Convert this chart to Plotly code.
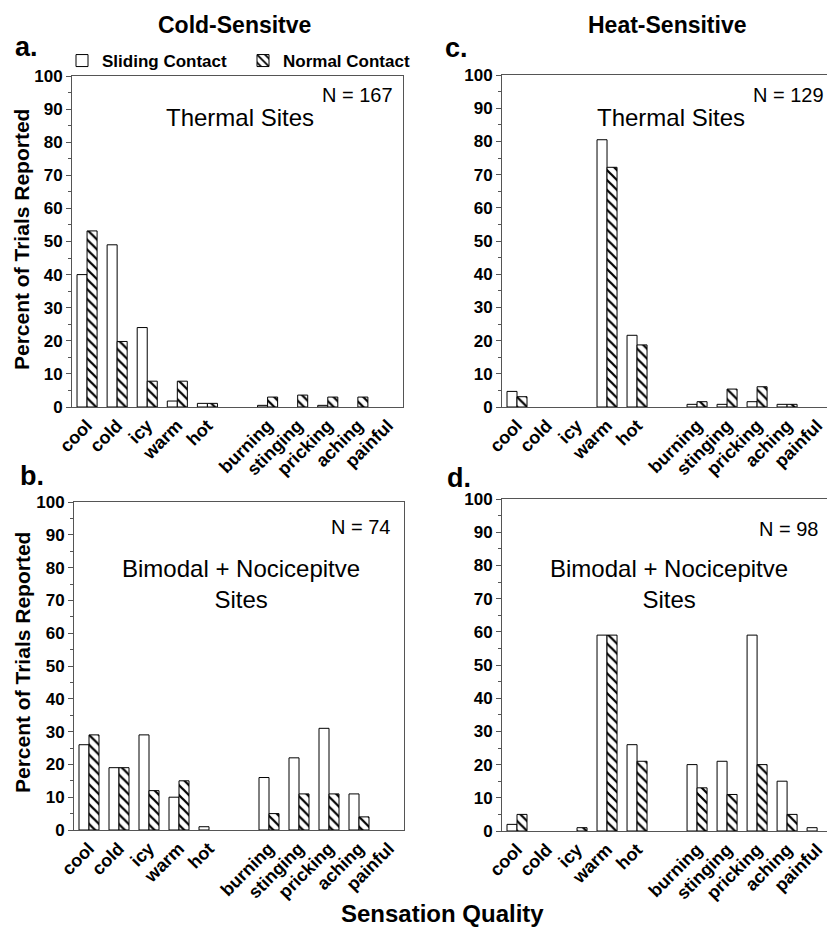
import plotly.graph_objects as go

W, H = 827, 937

# ---------------- data ----------------
categories = ["cool", "cold", "icy", "warm", "hot",
              "burning", "stinging", "pricking", "aching", "painful"]
slots = [0, 1, 2, 3, 4, 6, 7, 8, 9, 10]   # a blank slot separates the two groups

a_sliding = [40, 49, 24, 1.8, 1.1, 0.5, 0, 0.5, 0, 0]
a_normal = [53.2, 19.8, 7.8, 7.8, 1.1, 3.0, 3.6, 3.0, 3.0, 0]
c_sliding = [4.7, 0, 0, 80.5, 21.6, 0.8, 0.8, 1.6, 0.8, 0]
c_normal = [3.1, 0, 0, 72.2, 18.7, 1.6, 5.4, 6.1, 0.8, 0]
b_sliding = [26, 19, 29, 10, 1, 16, 22, 31, 11, 0]
b_normal = [29, 19, 12, 15, 0, 5, 11, 11, 4, 0]
d_sliding = [2, 0, 0, 59, 26, 20, 21, 59, 15, 1]
d_normal = [5, 0, 1, 59, 21, 13, 11, 20, 5, 0]

series_names = ["Sliding Contact", "Normal Contact"]
y_ticks = [0, 10, 20, 30, 40, 50, 60, 70, 80, 90, 100]

FONT = "Liberation Sans"
LINE = "#555555"
XTICK_SIZE = 18
YTICK_SIZE = 17

def px(x):
    return x / W

def py(y):
    return 1 - y / H

# panel pixel boxes: (left, right, top, bottom)
panels = {
    "a": dict(box=(72, 403, 76, 407), data=(a_sliding, a_normal), ax="", xr=[-0.5, 10.5]),
    "c": dict(box=(502, 827, 75, 407), data=(c_sliding, c_normal), ax="2", xr=[-0.5, 10.33]),
    "b": dict(box=(74, 404, 502, 830), data=(b_sliding, b_normal), ax="3", xr=[-0.5, 10.5]),
    "d": dict(box=(502, 827, 499, 831), data=(d_sliding, d_normal), ax="4", xr=[-0.5, 10.33]),
}

def outline(vals):
    return [1 if v > 0 else 0 for v in vals]

fig = go.Figure()
layout = {}
for key, p in panels.items():
    l, r, t, b = p["box"]
    ax = p["ax"]
    sl, nm = p["data"]
    fig.add_trace(go.Bar(
        x=slots, y=sl, name=series_names[0], offsetgroup="s",
        xaxis="x" + ax, yaxis="y" + ax, showlegend=(key == "a"),
        marker=dict(color="white", line=dict(color="black", width=outline(sl))),
    ))
    fig.add_trace(go.Bar(
        x=slots, y=nm, name=series_names[1], offsetgroup="n",
        xaxis="x" + ax, yaxis="y" + ax, showlegend=(key == "a"),
        marker=dict(color="white", line=dict(color="black", width=outline(nm)),
                    pattern=dict(shape="\\", size=7, solidity=0.32,
                                 fgcolor="black", bgcolor="white")),
    ))
    layout["xaxis" + ax] = dict(
        domain=[px(l), px(r)], range=p["xr"], anchor="y" + ax,
        tickvals=slots, ticktext=["<b>%s</b>" % c for c in categories], tickangle=-45,
        tickfont=dict(family=FONT, size=XTICK_SIZE, color="black"),
        showline=True, linecolor=LINE, linewidth=1, mirror=True, automargin=False,
        ticks="", showgrid=False, zeroline=False, fixedrange=True,
    )
    layout["yaxis" + ax] = dict(
        domain=[py(b), py(t)], range=[0, 100], anchor="x" + ax,
        tickvals=y_ticks, ticktext=["<b>%d</b>" % v for v in y_ticks],
        tickfont=dict(family=FONT, size=YTICK_SIZE, color="black"),
        showline=True, linecolor=LINE, linewidth=1, mirror=True, automargin=False,
        ticks="outside", ticklen=5, tickcolor=LINE,
        minor=dict(dtick=5, ticks="outside", ticklen=3, tickcolor=LINE),
        showgrid=False, zeroline=False, fixedrange=True,
    )

ann = []
def text(x, y, s, size, bold=False, xanchor="center", angle=0):
    ann.append(dict(x=px(x), y=py(y), xref="paper", yref="paper", text=s,
                    showarrow=False, xanchor=xanchor, yanchor="middle",
                    textangle=angle,
                    font=dict(family=FONT, size=size, color="black",
                              weight="bold" if bold else "normal")))

# column titles
text(234, 25, "Cold-Sensitve", 23, bold=True)
text(667, 25, "Heat-Sensitive", 23, bold=True)
# panel letters
text(13, 47, "a.", 27, bold=True, xanchor="left")
text(443, 48, "c.", 27, bold=True, xanchor="left")
text(18, 476, "b.", 27, bold=True, xanchor="left")
text(445, 478, "d.", 27, bold=True, xanchor="left")
# N labels
text(395, 95, "N = 167", 20, xanchor="right")
text(826, 95, "N = 129", 20, xanchor="right")
text(392, 527, "N = 74", 20, xanchor="right")
text(820, 529, "N = 98", 20, xanchor="right")
# site labels
text(240, 118, "Thermal Sites", 24)
text(671, 118, "Thermal Sites", 24)
text(241, 584, "Bimodal + Nocicepitve<br>Sites", 24)
text(669, 584, "Bimodal + Nocicepitve<br>Sites", 24)
# axis titles
text(22, 240, "Percent of Trials Reported", 21, bold=True, angle=-90)
text(22, 663, "Percent of Trials Reported", 21, bold=True, angle=-90)
text(442, 913, "Sensation Quality", 24, bold=True)

fig.update_layout(
    **layout,
    template="none",
    width=W, height=H,
    margin=dict(l=0, r=0, t=0, b=0, autoexpand=False),
    paper_bgcolor="white", plot_bgcolor="white",
    barmode="group", bargap=1/3, bargroupgap=0,
    annotations=ann,
    legend=dict(orientation="h", x=px(62), y=py(61), xanchor="left",
                yanchor="middle", entrywidth=136, entrywidthmode="pixels",
                font=dict(family=FONT, size=17, color="black", weight="bold"),
                bgcolor="rgba(0,0,0,0)", traceorder="normal"),
    showlegend=True,
)

fig.write_html("out.html", config={"displayModeBar": False},
               post_script="document.body.style.margin='0';")
